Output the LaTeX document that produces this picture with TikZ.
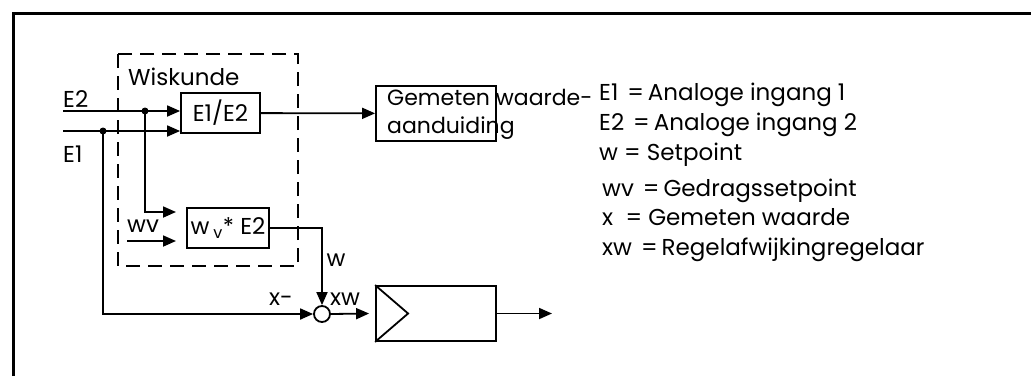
\documentclass[tikz,border=0pt]{standalone}
\usepackage{fontspec}
\setmainfont{Poppins}
\usetikzlibrary{arrows.meta,positioning}
\newcommand{\gelijk}{\hspace{9pt}=\hspace{4pt}}

\begin{document}
\begin{tikzpicture}[x=1pt,y=-1pt, every node/.style={font=\fontsize{23}{28}\selectfont,inner sep=0pt},
  box/.style={draw,line width=1.8pt,minimum height=40pt},
  blk/.style={draw,line width=1.8pt,minimum width=120pt,minimum height=55pt},
  arr/.style={line width=1.8pt,-{Triangle[length=13pt,width=11pt]}},
  lnk/.style={line width=1.8pt}]
\useasboundingbox (0,0) rectangle (1031,376);
\draw[line width=3pt] (13,376) -- (13,13) -- (1031,13);
\draw[line width=1.8pt,dash pattern=on 14pt off 8pt] (118,54) rectangle (298,266);
\node[anchor=base west] (wis) at (128,85) {Wiskunde};
\node[box,minimum width=79pt] (div) at (220.5,113) {E1/E2};
\node[box,minimum width=82pt] (mul) at (228,228) {w\,\textsubscript{v}* E2};
\node[blk] (disp) at (436,113.5) {};
\node[anchor=base west,align=left,font=\fontsize{22}{28}\selectfont] (disptxt) at (387,133) {Gemeten waarde-\\aanduiding};
\node[draw,circle,line width=1.8pt,minimum size=16pt] (sum) at (322,314) {};
\node[blk] (ctrl) at (436,313.5) {};
\draw[lnk] (ctrl.north west) -- ([xshift=33pt]ctrl.west) -- (ctrl.south west);
\coordinate (e2in) at (63,111); \coordinate (e1in) at (63,131);
\coordinate (j2) at (145,111); \coordinate (j1) at (103,131);
\coordinate (m1) at (176,212); \coordinate (wvin) at (127,241); \coordinate (m2) at (176,241);
\coordinate (out) at (552,313.5);
\node[anchor=base west] (e2l) at (63,107) {E2};
\node[anchor=base west] (e1l) at (63,162) {E1};
\node[anchor=base west] (wvl) at (127,232) {wv};
\node (wl) at (336,260) {w};
\node (xl) at (281,299) {x-};
\node (xwl) at (345,299) {xw};
\draw[arr] (e2in) -- (div.west |- e2in); \draw[arr] (e1in) -- (div.west |- e1in);
\fill (j2) circle (3.5pt); \fill (j1) circle (3.5pt);
\draw[arr] (j2) |- (m1); \draw[arr] (wvin) -- (m2);
\draw[arr] (div) -- (disp);
\draw[arr] (mul.east) -| (sum.north);
\draw[arr] (j1) |- (sum.west);
\draw[arr] (sum.east) -- ([xshift=-6pt]ctrl.west);
\draw[arr] (ctrl.east) -- (out);
\foreach \yy/\xx/\txt [count=\i] in {100/599/{E1\gelijk Analoge ingang 1},130/599/{E2\gelijk Analoge ingang 2},
  160/599/{w = Setpoint},196/602/{wv\gelijk Gedragssetpoint},225/602/{x\ \ = Gemeten waarde},255/602/{xw\gelijk Regelafwijkingregelaar}}
  \node[anchor=base west] (leg\i) at (\xx,\yy) {\txt};
\end{tikzpicture}
\end{document}
